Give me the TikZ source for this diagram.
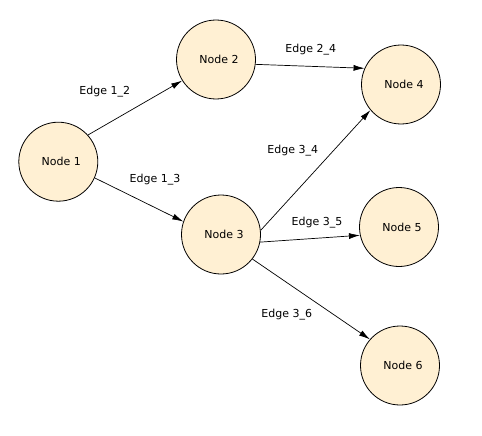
\documentclass[tikz,border=0pt]{standalone}
\usepackage{fontspec}
\setmainfont{DejaVu Sans}
\usetikzlibrary{arrows.meta}
\definecolor{nodefill}{RGB}{255,240,211}
\tikzset{
  nd/.style={circle, draw=black, line width=0.8pt, fill=nodefill, minimum size=79pt, inner sep=0pt, font=\fontsize{11}{13}\selectfont},
  edge/.style={draw=black, line width=0.7pt, -{Latex[length=11pt,width=6pt]}},
  elabel/.style={font=\fontsize{11}{13}\selectfont, inner sep=0pt}
}
\begin{document}
\begin{tikzpicture}[x=1pt,y=-1pt]
\useasboundingbox (0,0) rectangle (482,436);
\fill[white] (0,0) rectangle (482,436);
\node[nd] (n1) at (58.3,161.7) {\hspace{6pt}Node 1};
\node[nd] (n2) at (216,59.5) {\hspace{6pt}Node 2};
\node[nd] (n3) at (221,234.5) {\hspace{6pt}Node 3};
\node[nd] (n4) at (401,84.5) {\hspace{6pt}Node 4};
\node[nd] (n5) at (399,227) {\hspace{6pt}Node 5};
\node[nd] (n6) at (400,365.5) {\hspace{6pt}Node 6};

\draw[edge] (n1.42) -- (n2.212.8);
\draw[edge] (n1.-24.8) -- (n3.161.6);
\draw[edge] (n2.-7.8) -- (n4.156.5);
\draw[edge] (n3.6) -- (n4.220);
\draw[edge] (n3.-11.4) -- (n5.192.5);
\draw[edge] (n3.-38) -- (n6.139.6);

\node[elabel] (l12) at (104.7,91.7) {Edge 1\_2};
\node[elabel] (l24) at (310.8,49.7) {Edge 2\_4};
\node[elabel] (l34) at (292.8,151) {Edge 3\_4};
\node[elabel] (l13) at (155,179.7) {Edge 1\_3};
\node[elabel] (l35) at (317,222.7) {Edge 3\_5};
\node[elabel] (l36) at (286.8,314.3) {Edge 3\_6};
\end{tikzpicture}
\end{document}
